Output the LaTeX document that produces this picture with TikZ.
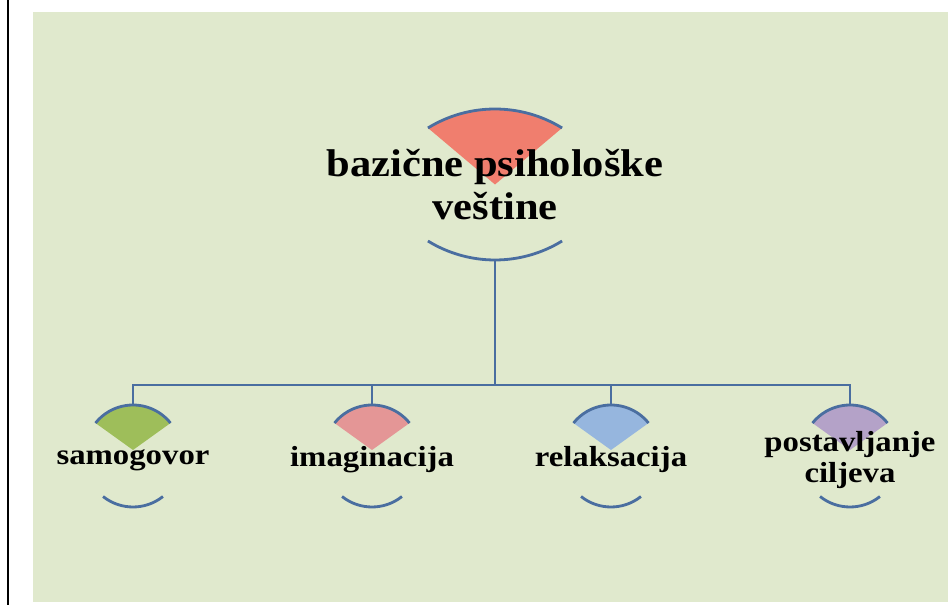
\documentclass[tikz,border=0pt]{standalone}
\usepackage{fontspec}
\setmainfont{Liberation Serif}
\newfontfamily\rootfont[FakeStretch=1.1]{Liberation Serif}
\newfontfamily\leaffont[FakeStretch=1.13]{Liberation Serif}
\usetikzlibrary{calc}
\definecolor{bgreen}{RGB}{224,233,205}
\definecolor{linkblue}{RGB}{74,110,160}
\definecolor{rootred}{RGB}{240,126,110}
\definecolor{leafgreen}{RGB}{158,190,90}
\definecolor{leafpink}{RGB}{228,150,150}
\definecolor{leafblue}{RGB}{150,182,222}
\definecolor{leafviolet}{RGB}{180,162,200}

\tikzset{
  link/.style={draw=linkblue, line width=1.2pt},
  rim/.style={draw=linkblue, line width=1.6pt},
  roottext/.style={font=\rootfont\bfseries\fontsize{22}{24.4}\selectfont, align=center, text=black, inner sep=0pt},
  leaftext/.style={font=\leaffont\bfseries\fontsize{16.5}{17.5}\selectfont, align=center, text=black, inner sep=0pt},
}

\begin{document}
\begin{tikzpicture}[x=0.02cm,y=0.02cm]
        %RAHMEN
        \useasboundingbox (0,0) rectangle (951,605);
        \fill[bgreen] (33,3) rectangle (948,593);
        \draw[line width=1.1pt] (8,0) -- (8,605);
        %KORIJEN
        \fill[rootred] (495,420.5) -- ([shift={(58.4:128)}]495,368) arc[start angle=58.4, end angle=121.6, radius=128] -- cycle;
        \node[roottext] (root) at (495,420.5) {bazične psihološke\\veštine};
        \draw[rim] ([shift={(58.4:128)}]495,368) arc[start angle=58.4, end angle=121.6, radius=128];
        \draw[rim] ([shift={(238.4:128)}]495,473) arc[start angle=238.4, end angle=301.6, radius=128];
        \coordinate (rootfoot) at (495,345);
        \coordinate (bus) at (495,220);
        \draw[link] (rootfoot) -- (bus);
        %LISTOVI
        \foreach \nm/\x/\col/\txt in {samo/133/leafgreen/samogovor,
                                      imag/372/leafpink/imaginacija,
                                      relak/611/leafblue/relaksacija,
                                      cilj/850/leafviolet/{postavljanje\\ciljeva}}{
          \fill[\col] (\x,155) -- ([shift={(38.6:48)}]\x,152) arc[start angle=38.6, end angle=141.4, radius=48] -- cycle;
          \node[leaftext] (\nm) at (\x,145) {\txt};
          \coordinate (\nm-head) at (\x,200);
          \draw[rim] ([shift={(38.6:48)}]\x,152) arc[start angle=38.6, end angle=141.4, radius=48];
          \draw[rim] ([shift={(231.4:48)}]\x,146) arc[start angle=231.4, end angle=308.6, radius=48];
          \draw[link] (bus) -| (\nm-head);
        }
\end{tikzpicture}
\end{document}
